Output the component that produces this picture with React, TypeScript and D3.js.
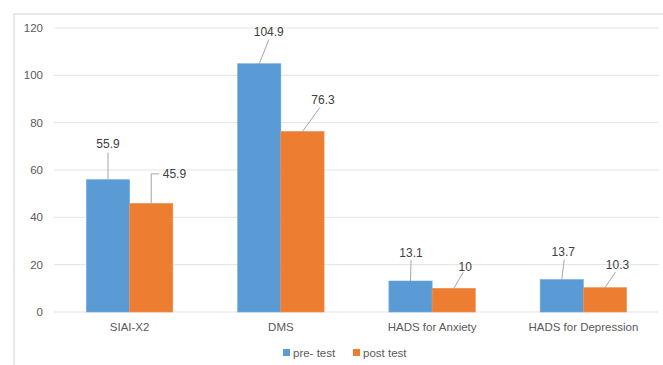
import React from "react";
import * as d3 from "d3";

const categories = ["SIAI-X2", "DMS", "HADS for Anxiety", "HADS for Depression"];
const seriesNames = ["pre- test", "post test"];
const preTest = [55.9, 104.9, 13.1, 13.7];
const postTest = [45.9, 76.3, 10, 10.3];
const yTicks = [0, 20, 40, 60, 80, 100, 120];
const colors = ["#5B9BD5", "#ED7D31"];

// label layout offsets (pixels) relative to bar-top centre: [labelDx, labelDy, lineDx, lineDy, elbow]
const preLabelOffsets = [
  [0, -36, 0, -27, 0],
  [9.5, -32, 9.5, -24, 0],
  [0.5, -28, 0.5, -21, 0],
  [1.5, -28, 2.5, -20, 0],
];
const postLabelOffsets = [
  [11.5, -29.5, 0, -29.5, 1],
  [20.5, -32, 17.5, -24, 0],
  [11.5, -22, 9.5, -16, 0],
  [12.5, -22.5, 10.5, -15.5, 0],
];

const W = 663;
const H = 365;
const left = 54;
const right = 659;
const top = 28;
const bottom = 312;
const font = "'Liberation Sans', Arial, sans-serif";

export default function App() {
  const x = d3.scaleBand<string>().domain(categories).range([left, right]).paddingInner(0).paddingOuter(0);
  const y = d3.scaleLinear().domain([0, 120]).range([bottom, top]);
  const barW = x.bandwidth() * (1 / 3.5);
  const series = [preTest, postTest];
  const offsets = [preLabelOffsets, postLabelOffsets];

  return (
    <svg width={W} height={H} style={{ position: "absolute", left: 0, top: 0, display: "block", background: "#fff" }} fontFamily={font}>
      <rect x={14} y={14} width={W} height={H} fill="none" stroke="#D9D9D9" strokeWidth={1.2} />
      {yTicks.map((t) => (
        <g key={t}>
          <line x1={left} x2={right} y1={y(t)} y2={y(t)} stroke="#E3E3E3" strokeWidth={1} />
          <text x={43} y={y(t)} dy="0.35em" textAnchor="end" fontSize={11.5} fill="#595959">{t}</text>
        </g>
      ))}
      {categories.map((c, i) => {
        const cx = (x(c) as number) + x.bandwidth() / 2;
        return (
          <g key={c}>
            {series.map((s, j) => {
              const bx = cx - barW + j * barW;
              return (
                <rect key={j} x={bx} y={y(s[i])} width={barW} height={y(0) - y(s[i])} fill={colors[j]} stroke={j === 0 ? "#6FA8DC" : "#F0914F"} strokeWidth={0.6} />
              );
            })}
            <text x={cx} y={327} dy="0.35em" textAnchor="middle" fontSize={11.5} fill="#595959">{c}</text>
          </g>
        );
      })}
      {categories.map((c, i) => {
        const cx = (x(c) as number) + x.bandwidth() / 2;
        return series.map((s, j) => {
          const bcx = cx - barW / 2 + j * barW;
          const by = y(s[i]);
          const [ldx, ldy, lnx, lny, elbow] = offsets[j][i];
          return (
            <g key={`${i}-${j}`}>
              {elbow ? (
                <polyline points={`${bcx},${by} ${bcx},${by + lny} ${bcx + 8},${by + lny}`} fill="none" stroke="#A6A6A6" strokeWidth={1} />
              ) : (
                <line x1={bcx} y1={by} x2={bcx + lnx} y2={by + lny} stroke="#A6A6A6" strokeWidth={1} />
              )}
              <text x={bcx + ldx} y={by + ldy} dy="0.35em" textAnchor={elbow ? "start" : "middle"} fontSize={12} fill="#404040">{s[i]}</text>
            </g>
          );
        });
      })}
      {seriesNames.map((n, j) => {
        const lx = j === 0 ? 283 : 353;
        return (
          <g key={n}>
            <rect x={lx} y={349} width={7} height={7} fill={colors[j]} />
            <text x={lx + 10} y={353} dy="0.35em" fontSize={11.5} fill="#595959">{n}</text>
          </g>
        );
      })}
    </svg>
  );
}
